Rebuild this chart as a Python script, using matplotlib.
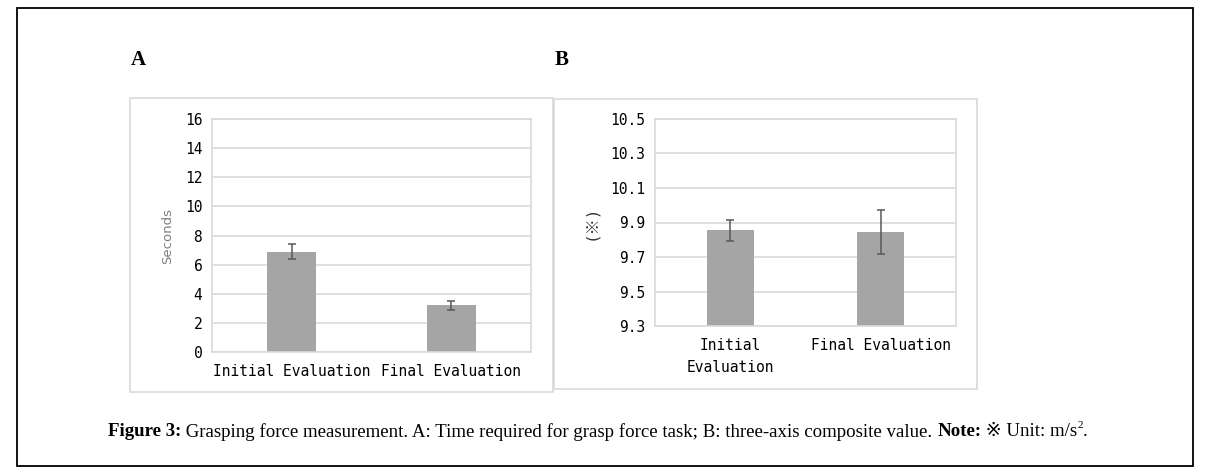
import numpy as np
import matplotlib
matplotlib.use("Agg")
import matplotlib.pyplot as plt
from matplotlib.patches import Rectangle

# data
cats_a = ["Initial Evaluation", "Final Evaluation"]
vals_a = [6.9, 3.2]
err_a = [0.5, 0.3]
ticks_a = [0, 2, 4, 6, 8, 10, 12, 14, 16]

cats_b = ["Initial\nEvaluation", "Final Evaluation"]
vals_b = [9.855, 9.845]
err_b = [0.06, 0.13]
ticks_b = [9.3, 9.5, 9.7, 9.9, 10.1, 10.3, 10.5]

W, H = 1206, 475
fig = plt.figure(figsize=(W / 100, H / 100), dpi=100)


def px_box(x0, y0, x1, y1):
    # pixel box (top-left origin) -> figure fraction [l, b, w, h]
    return [x0 / W, 1 - y1 / H, (x1 - x0) / W, (y1 - y0) / H]


def frame(x0, y0, x1, y1, color, lw):
    l, b, w, h = px_box(x0, y0, x1, y1)
    fig.patches.append(Rectangle((l, b), w, h, transform=fig.transFigure,
                                 fill=False, edgecolor=color, linewidth=lw))


# outer black frame and the two panel boxes
frame(17, 8, 1193, 466, "black", 1.3)
frame(130, 98, 553, 392, "#d9d9d9", 1.2)
frame(554, 99, 977, 389, "#d9d9d9", 1.2)

mono = ["DejaVu Sans Mono", "Noto Sans CJK JP"]
bar_col = "#a5a5a5"
err_col = "#595959"
grid_col = "#d9d9d9"


def panel(rect, cats, vals, errs, ticks, ylim, fmt, ylab, ylab_kw):
    ax = fig.add_axes(rect)
    x = np.arange(len(cats))
    ax.bar(x, vals, width=0.31, color=bar_col, zorder=2)
    ax.errorbar(x, vals, yerr=errs, fmt="none", ecolor=err_col,
                elinewidth=1.1, capsize=3, capthick=1.1, zorder=3)
    ax.set_xlim(-0.5, 1.5)
    ax.set_ylim(*ylim)
    ax.set_yticks(ticks)
    ax.set_yticklabels([fmt.format(t) for t in ticks], family=mono, fontsize=10.5)
    ax.set_xticks(x)
    ax.set_xticklabels(cats, family=mono, fontsize=10.5, linespacing=1.55)
    ax.tick_params(axis="y", length=0, pad=7)
    ax.tick_params(axis="x", length=0, pad=9)
    ax.yaxis.grid(True, color=grid_col, linewidth=1.2, zorder=0)
    ax.set_axisbelow(True)
    for s in ax.spines.values():
        s.set_color(grid_col)
        s.set_linewidth(1.2)
    ax.set_ylabel(ylab, **ylab_kw)
    return ax


ax1 = panel(px_box(212, 119, 531, 352), cats_a, vals_a, err_a, ticks_a,
            (0, 16), "{:g}", "Seconds",
            dict(fontsize=9.5, color="#7f7f7f", family="DejaVu Sans", labelpad=8))
ax2 = panel(px_box(655, 119, 956, 326), cats_b, vals_b, err_b, ticks_b,
            (9.3, 10.5), "{:.1f}", "(※)",
            dict(fontsize=11.5, color="#333333", family=mono, labelpad=9))

# panel letters
fig.text(131 / W, 1 - 60 / H, "A", family="Liberation Serif", fontsize=15,
         fontweight="bold", va="center")
fig.text(555 / W, 1 - 60 / H, "B", family="Liberation Serif", fontsize=15,
         fontweight="bold", va="center")

# caption, built piece by piece
pieces = [
    ("Figure 3:", "bold"),
    (" Grasping force measurement. A: Time required for grasp force task; B: three-axis composite value. ", "normal"),
    ("Note:", "bold"),
    (" ※ Unit: m/s", "normal"),
]
fig.canvas.draw()
r = fig.canvas.get_renderer()
xpos = 108
ycap = 1 - 432 / H
cap_fs = 13.6
for txt, wt in pieces:
    t = fig.text(xpos / W, ycap, txt, family=["Liberation Serif", "DejaVu Sans"],
                 fontsize=cap_fs, fontweight=wt, va="center")
    xpos += t.get_window_extent(r).width
sup = fig.text(xpos / W, ycap + 6 / H, "2", family="Liberation Serif",
               fontsize=8, va="center")
xpos += sup.get_window_extent(r).width
fig.text(xpos / W, ycap, ".", family="Liberation Serif", fontsize=cap_fs, va="center")

fig.savefig("out.png", dpi=100)
